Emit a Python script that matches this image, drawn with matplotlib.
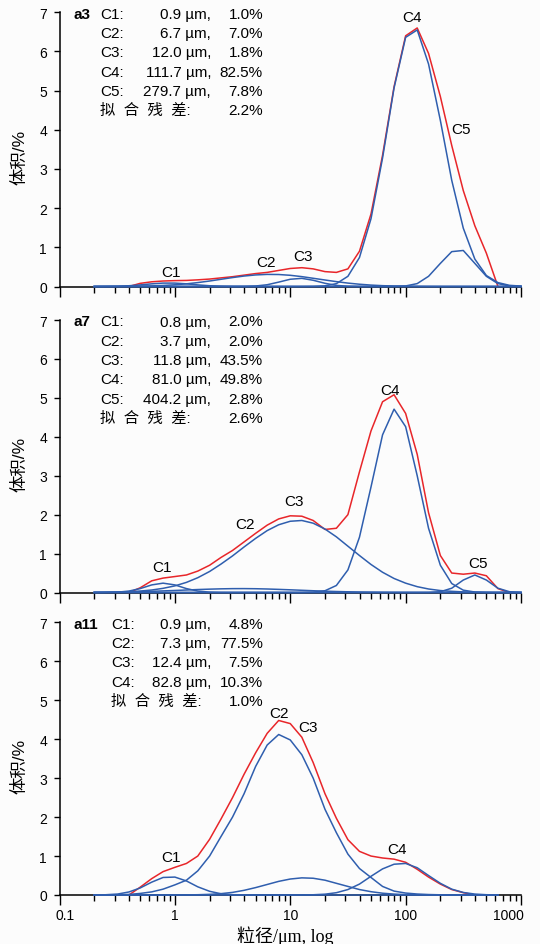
import numpy as np
import matplotlib
matplotlib.use("Agg")
import matplotlib.pyplot as plt
from matplotlib.ticker import LogLocator, FixedLocator, FixedFormatter, NullFormatter
from matplotlib.transforms import ScaledTranslation

plt.rcParams["font.family"] = ["Liberation Sans", "Noto Sans CJK SC"]

nan = np.nan

# grain size grid (um), 0.1 log-decade steps
size_um = [0.2, 0.25, 0.32, 0.4, 0.5, 0.63, 0.79, 1.0, 1.26, 1.58,
           2.0, 2.51, 3.16, 3.98, 5.01, 6.31, 7.94, 10.0, 12.6, 15.8,
           20.0, 25.1, 31.6, 39.8, 50.1, 63.1, 79.4, 100, 126, 158,
           200, 251, 316, 398, 501, 631, 794, 1000]

# ---- a3 ----
a3_c1 = [0.0, 0.002, 0.007, 0.019, 0.041, 0.068, 0.087, 0.087, 0.068, 0.041,
         0.019, 0.007, 0.002, 0, 0, 0, 0, 0, 0, 0,
         0, 0, 0, 0, 0, 0, 0, 0, 0, 0,
         0, 0, 0, 0, 0, 0, 0, 0]
a3_c2 = [0.0, 0.001, 0.002, 0.004, 0.008, 0.015, 0.027, 0.044, 0.068, 0.10,
         0.14, 0.184, 0.228, 0.267, 0.295, 0.309, 0.306, 0.286, 0.252, 0.21,
         0.166, 0.124, 0.087, 0.058, 0.036, 0.021, 0.012, 0.006, 0.003, 0.001,
         0, 0, 0, 0, 0, 0, 0, 0]
a3_c3 = [0, 0, 0, 0, 0, 0, 0, 0, 0, 0,
         0, 0, 0, 0.002, 0.0125, 0.045, 0.112, 0.185, 0.208, 0.159,
         0.082, 0.028, 0.007, 0.001, 0, 0, 0, 0, 0, 0,
         0, 0, 0, 0, 0, 0, 0, 0]
a3_c4 = [0, 0, 0, 0, 0, 0, 0, 0, 0, 0,
         0, 0, 0, 0, 0, 0, 0, 0, 0, 0.003,
         0.017, 0.073, 0.26, 0.74, 1.73, 3.28, 5.07, 6.36, 6.55, 5.68,
         4.24, 2.71, 1.49, 0.70, 0.28, 0.10, 0.03, 0.01]
a3_c5 = [0, 0, 0, 0, 0, 0, 0, 0, 0, 0,
         0, 0, 0, 0, 0, 0, 0, 0, 0, 0,
         0, 0, 0, 0, 0, 0, 0.002, 0.014, 0.074, 0.26,
         0.59, 0.89, 0.92, 0.59, 0.26, 0.074, 0.014, 0.002]
a3_fit = [nan, nan, nan, 0.0, 0.08, 0.12, 0.14, 0.15, 0.155, 0.17,
          0.19, 0.22, 0.25, 0.29, 0.33, 0.36, 0.41, 0.46, 0.48, 0.45,
          0.38, 0.36, 0.45, 0.9, 1.85, 3.35, 5.1, 6.4, 6.6, 5.95,
          4.85, 3.6, 2.45, 1.55, 0.85, 0.0, nan, nan]
a3_rows = [("C1:", "0.9 µm,", "1.0%"),
           ("C2:", "6.7 µm,", "7.0%"),
           ("C3:", "12.0 µm,", "1.8%"),
           ("C4:", "111.7 µm,", "82.5%"),
           ("C5:", "279.7 µm,", "7.8%"),
           ("拟  合  残  差:", "", "2.2%")]
a3_marks = [("C1", 0.92, 0.37), ("C2", 6.2, 0.62), ("C3", 12.9, 0.78),
            ("C4", 113, 6.87), ("C5", 300, 4.02)]

# ---- a7 ----
a7_c1 = [0.0, 0.001, 0.009, 0.037, 0.10, 0.195, 0.24, 0.195, 0.10, 0.037,
         0.009, 0.001, 0, 0, 0, 0, 0, 0, 0, 0,
         0, 0, 0, 0, 0, 0, 0, 0, 0, 0,
         0, 0, 0, 0, 0, 0, 0, 0]
a7_c2 = [0.004, 0.006, 0.010, 0.015, 0.022, 0.030, 0.041, 0.052, 0.064, 0.076,
         0.086, 0.094, 0.099, 0.10, 0.097, 0.090, 0.080, 0.069, 0.057, 0.045,
         0.034, 0.025, 0.018, 0.012, 0.008, 0.005, 0.003, 0.002, 0.001, 0,
         0, 0, 0, 0, 0, 0, 0, 0]
a7_c3 = [0.003, 0.006, 0.011, 0.02, 0.037, 0.064, 0.107, 0.17, 0.26, 0.38,
         0.54, 0.73, 0.94, 1.17, 1.39, 1.59, 1.74, 1.83, 1.85, 1.78,
         1.63, 1.43, 1.19, 0.95, 0.72, 0.52, 0.36, 0.24, 0.15, 0.09,
         0.05, 0.03, 0.015, 0.007, 0.003, 0.001, 0, 0]
a7_c4 = [0, 0, 0, 0, 0, 0, 0, 0, 0, 0,
         0, 0, 0, 0, 0, 0, 0, 0, 0.001, 0.009,
         0.045, 0.18, 0.58, 1.42, 2.71, 4.05, 4.71, 4.26, 3.0, 1.65,
         0.70, 0.23, 0.06, 0.012, 0.002, 0, 0, 0]
a7_c5 = [0, 0, 0, 0, 0, 0, 0, 0, 0, 0,
         0, 0, 0, 0, 0, 0, 0, 0, 0, 0,
         0, 0, 0, 0, 0, 0, 0, 0, 0, 0.002,
         0.02, 0.11, 0.32, 0.45, 0.32, 0.11, 0.02, 0.002]
a7_fit = [nan, nan, nan, 0.0, 0.12, 0.3, 0.37, 0.41, 0.45, 0.55,
          0.70, 0.9, 1.08, 1.3, 1.52, 1.73, 1.89, 1.97, 1.96, 1.85,
          1.62, 1.65, 2.0, 3.1, 4.15, 4.9, 5.08, 4.6, 3.55, 2.05,
          0.95, 0.5, 0.47, 0.5, 0.43, 0.1, 0.0, nan]
a7_rows = [("C1:", "0.8 µm,", "2.0%"),
           ("C2:", "3.7 µm,", "2.0%"),
           ("C3:", "11.8 µm,", "43.5%"),
           ("C4:", "81.0 µm,", "49.8%"),
           ("C5:", "404.2 µm,", "2.8%"),
           ("拟  合  残  差:", "", "2.6%")]
a7_marks = [("C1", 0.77, 0.65), ("C2", 4.05, 1.75), ("C3", 10.8, 2.34),
            ("C4", 73, 5.21), ("C5", 421, 0.77)]

# ---- a11 ----
a11_c1 = [0.001, 0.006, 0.025, 0.078, 0.18, 0.33, 0.45, 0.46, 0.36, 0.21,
          0.095, 0.032, 0.008, 0.002, 0, 0, 0, 0, 0, 0,
          0, 0, 0, 0, 0, 0, 0, 0, 0, 0,
          0, 0, 0, 0, 0, 0, nan, nan]
a11_c2 = [0.0, 0.001, 0.005, 0.015, 0.04, 0.08, 0.15, 0.26, 0.38, 0.62,
          1.0, 1.5, 2.0, 2.6, 3.3, 3.85, 4.12, 3.98, 3.6, 3.0,
          2.2, 1.6, 1.05, 0.68, 0.45, 0.22, 0.10, 0.05, 0.025, 0.012,
          0.005, 0.002, 0, 0, 0, 0, nan, nan]
a11_c3 = [0, 0, 0, 0, 0, 0, 0, 0.001, 0.003, 0.007,
          0.017, 0.035, 0.067, 0.12, 0.19, 0.27, 0.35, 0.41, 0.44, 0.43,
          0.38, 0.30, 0.22, 0.14, 0.085, 0.046, 0.023, 0.01, 0.004, 0.002,
          0, 0, 0, 0, 0, 0, nan, nan]
a11_c4 = [0, 0, 0, 0, 0, 0, 0, 0, 0, 0,
          0, 0, 0, 0, 0, 0, 0, 0, 0.002, 0.006,
          0.021, 0.059, 0.14, 0.28, 0.48, 0.67, 0.79, 0.81, 0.70, 0.5,
          0.3, 0.15, 0.065, 0.024, 0.007, 0.002, nan, nan]
a11_fit = [nan, nan, nan, 0.0, 0.2, 0.42, 0.6, 0.71, 0.81, 1.0,
           1.43, 1.95, 2.5, 3.1, 3.65, 4.15, 4.48, 4.4, 4.05, 3.4,
           2.6, 1.97, 1.42, 1.12, 1.0, 0.95, 0.92, 0.84, 0.66, 0.46,
           0.28, 0.14, 0.06, 0.0, nan, nan, nan, nan]
a11_rows = [("C1:", "0.9 µm,", "4.8%"),
            ("C2:", "7.3 µm,", "77.5%"),
            ("C3:", "12.4 µm,", "7.5%"),
            ("C4:", "82.8 µm,", "10.3%"),
            ("拟  合  残  差:", "", "1.0%")]
a11_marks = [("C1", 0.92, 0.97), ("C2", 8.0, 4.67), ("C3", 14.3, 4.3),
             ("C4", 83.6, 1.19)]

x_ticks = [0.1, 1, 10, 100, 1000]
x_tick_labels = ["0.1", "1", "10", "100", "1000"]

W, H = 540, 945
RED = "#e8262a"
BLUE = "#2f5eae"

fig = plt.figure(figsize=(W / 100, H / 100), dpi=100, facecolor="#fcfcfc")

panels = [
    ("a3", [a3_c1, a3_c2, a3_c3, a3_c4, a3_c5], a3_fit, a3_rows, a3_marks, 13.3, 287.5, 100),
    ("a7", [a7_c1, a7_c2, a7_c3, a7_c4, a7_c5], a7_fit, a7_rows, a7_marks, 321.0, 593.5, 100),
    ("a11", [a11_c1, a11_c2, a11_c3, a11_c4], a11_fit, a11_rows, a11_marks, 623.3, 896.0, 111),
]

x0, x1 = 59.5, 521.0
for k, (tag, comps, fit, rows, marks, ytop, ybot, name_x) in enumerate(panels):
    hpx = ybot - ytop
    ax = fig.add_axes([x0 / W, 1 - ybot / H, (x1 - x0) / W, hpx / H])
    ax.set_facecolor("none")

    ax.plot(size_um, fit, color=RED, lw=1.1, clip_on=False, zorder=3)
    for c in comps:
        ax.plot(size_um, c, color=BLUE, lw=1.1, clip_on=False, zorder=4)

    ax.set_xscale("log")
    ax.set_xlim(0.1, 1000)
    ax.set_ylim(0, 7)
    ax.set_yticks(range(8))

    ax.xaxis.set_major_locator(FixedLocator(x_ticks))
    ax.xaxis.set_minor_locator(LogLocator(base=10, subs=np.arange(2, 10)))
    ax.xaxis.set_minor_formatter(NullFormatter())
    if k == 2:
        ax.xaxis.set_major_formatter(FixedFormatter(x_tick_labels))
    else:
        ax.xaxis.set_major_formatter(NullFormatter())

    for s in ["top", "right"]:
        ax.spines[s].set_visible(False)
    for s in ["left", "bottom"]:
        ax.spines[s].set_linewidth(1.1)
    ax.tick_params(axis="y", direction="out", length=4.5, width=1.0, labelsize=10, pad=4.5)
    ax.tick_params(axis="x", which="major", direction="out", length=7.5, width=1.0, labelsize=10, pad=2)
    ax.tick_params(axis="x", which="minor", direction="out", length=4, width=1.0)

    if k == 2:
        # edge labels pulled inside like the original
        labs = ax.get_xticklabels()
        labs[0].set_transform(labs[0].get_transform() + ScaledTranslation(4 / 72, 0, fig.dpi_scale_trans))
        labs[-1].set_horizontalalignment("right")
        labs[-1].set_transform(labs[-1].get_transform() + ScaledTranslation(2 / 72, 0, fig.dpi_scale_trans))

    # fit summary block
    def fy(px):
        return 1 - px / hpx
    ax.text((74 - x0) / (x1 - x0), fy(1.5), tag, transform=ax.transAxes,
            ha="left", va="center", fontsize=11, fontweight="bold")
    for i, (name, mode, pct) in enumerate(rows):
        yy = fy(1.5 + i * 19.3)
        ax.text((name_x - x0) / (x1 - x0), yy, name, transform=ax.transAxes,
                ha="left", va="center", fontsize=11)
        if mode:
            ax.text((211 - x0) / (x1 - x0), yy, mode, transform=ax.transAxes,
                    ha="right", va="center", fontsize=11)
        ax.text((263 - x0) / (x1 - x0), yy, pct, transform=ax.transAxes,
                ha="right", va="center", fontsize=11)

    for lab, mx, my in marks:
        ax.text(mx, my, lab, ha="center", va="center", fontsize=11, zorder=5)

    fig.text(20 / W, 1 - ((ytop + ybot) / 2 + 7) / H, "体积/%", rotation=90,
             ha="center", va="center", fontsize=12.5)

fig.text(285 / W, 1 - 936.5 / H, "粒径/μm, log", ha="center", va="center",
         fontsize=13, family=["Liberation Serif", "Noto Sans CJK SC"])

fig.savefig("out.png", dpi=100, facecolor=fig.get_facecolor())
